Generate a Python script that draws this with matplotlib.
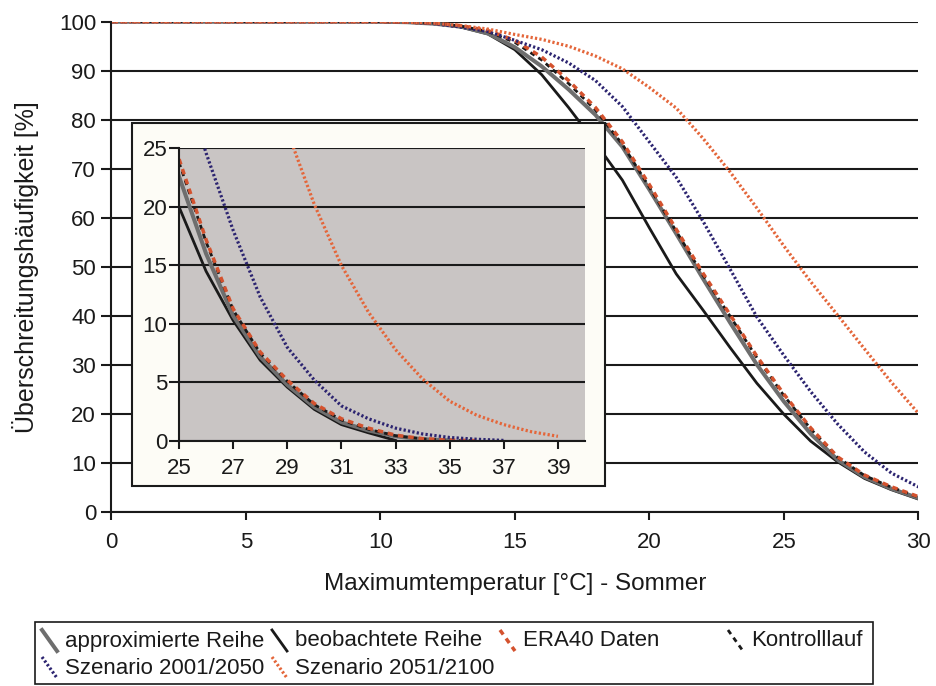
"""Exceedance frequency of summer maximum temperature, with a zoomed inset."""

import numpy as np
import matplotlib

matplotlib.use("Agg")
import matplotlib.pyplot as plt  # noqa: E402
from matplotlib.lines import Line2D  # noqa: E402
from matplotlib.patches import Rectangle  # noqa: E402

nan = np.nan

# temperature [°C]; the curves are flat at 100 % below 10 °C
TEMP = [0, 10, 11, 12, 13, 14, 15, 16, 17, 18, 19, 20, 21, 22, 23, 24,
        25, 26, 27, 28, 29, 30, 31, 32, 33, 34, 35, 36, 37, 38, 39]

APPROX = [100, 100, 99.9, 99.6, 99.0, 97.6, 94.8, 90.9, 86.2, 81.0, 74.5,
          65.8, 56.8, 47.6, 38.7, 30.1, 22.6, 16.0, 10.7, 7.2, 4.8, 2.9,
          1.6, 0.9, 0.4, 0.15, 0.05, nan, nan, nan, nan]
OBSERVED = [100, 100, 99.9, 99.6, 98.9, 97.5, 94.3, 89.2, 82.5, 75.3, 67.7,
            58.0, 48.6, 41.2, 33.6, 26.3, 20.0, 14.5, 10.3, 6.9, 4.6, 2.7,
            1.4, 0.7, 0.05, nan, nan, nan, nan, nan, nan]
ERA40 = [100, 100, 99.9, 99.7, 99.2, 98.2, 96.2, 92.8, 88.0, 82.5, 75.5,
         66.8, 57.7, 48.7, 40.3, 31.8, 24.1, 17.2, 11.3, 7.6, 5.2, 3.2,
         1.9, 1.1, 0.5, 0.2, 0.08, 0.03, nan, nan, nan]
CONTROL = [100, 100, 99.9, 99.7, 99.1, 98.0, 95.8, 92.2, 87.4, 82.0, 75.0,
           66.3, 57.3, 48.3, 40.0, 31.5, 23.8, 17.0, 11.2, 7.5, 5.1, 3.1,
           1.8, 1.0, 0.45, 0.18, 0.07, 0.02, nan, nan, nan]
SCEN_2001 = [100, 100, 99.9, 99.6, 98.9, 98.0, 96.2, 94.3, 91.6, 88.0, 82.7,
             75.5, 68.3, 59.3, 49.6, 39.8, 32.0, 24.6, 18.0, 12.3, 8.0, 5.2,
             3.0, 1.9, 1.1, 0.6, 0.3, 0.15, 0.05, nan, nan]
SCEN_2051 = [100, 100, 99.9, 99.7, 99.2, 98.5, 97.4, 96.4, 95.0, 93.0, 90.4,
             86.6, 82.4, 76.2, 69.4, 62.0, 54.3, 47.0, 40.2, 33.3, 26.5, 20.2,
             15.0, 11.0, 7.8, 5.3, 3.4, 2.2, 1.4, 0.8, 0.4]

LABELS = {"approx": "approximierte Reihe", "observed": "beobachtete Reihe",
          "era40": "ERA40 Daten", "control": "Kontrolllauf",
          "s2001": "Szenario 2001/2050", "s2051": "Szenario 2051/2100"}

plt.rcParams["font.family"] = ["Liberation Sans", "DejaVu Sans"]

INK = "#1a1a1a"
STYLES = {
    "observed": dict(color=INK, lw=2.0, ls="-"),
    "approx": dict(color="#6e6e6e", lw=2.9, ls="-"),
    "control": dict(color=INK, lw=2.0, ls=(0, (1.8, 1.6))),
    "era40": dict(color="#d4522e", lw=2.5, ls=(0, (1.6, 1.4))),
    "s2001": dict(color="#2c2470", lw=2.3, ls=(0, (0.7, 0.7))),
    "s2051": dict(color="#e4663a", lw=2.3, ls=(0, (0.7, 0.7))),
}
SERIES = [("observed", OBSERVED), ("approx", APPROX), ("control", CONTROL),
          ("era40", ERA40), ("s2001", SCEN_2001), ("s2051", SCEN_2051)]

W, H = 936, 686
fig = plt.figure(figsize=(W / 100, H / 100), dpi=100)


def fx(px):
    return px / W


def fy(py):
    return 1 - py / H


def style_axes(a, ylen, xlen, ypad, xpad, size):
    a.yaxis.grid(True, color=INK, lw=1.5)
    a.set_axisbelow(True)
    for side in ("top", "right"):
        a.spines[side].set_visible(False)
    for side in ("left", "bottom"):
        a.spines[side].set_linewidth(1.5)
        a.spines[side].set_color(INK)
    a.tick_params(width=1.5, labelsize=size, color=INK, labelcolor=INK)
    a.tick_params(axis="y", length=ylen, pad=ypad)
    a.tick_params(axis="x", length=xlen, pad=xpad)


ax = fig.add_axes([fx(111.3), fy(512.3), fx(918.3 - 111.3), (512.3 - 21.7) / H])
for key, vals in SERIES:
    ax.plot(TEMP, vals, **STYLES[key])
ax.set_xlim(0, 30)
ax.set_ylim(0, 100)
ax.set_xticks(range(0, 31, 5))
ax.set_yticks(range(0, 101, 10))
style_axes(ax, ylen=7, xlen=5.5, ypad=4, xpad=9, size=16)
ax.set_xlabel("Maximumtemperatur [°C] - Sommer", fontsize=17.5, labelpad=14,
              color=INK)
ax.set_ylabel("Überschreitungshäufigkeit [%]", fontsize=18, labelpad=14,
              color=INK)

# inset frame
fig.add_artist(Rectangle((fx(132), fy(486)), fx(605 - 132), (486 - 123) / H,
                         transform=fig.transFigure, facecolor="#fdfcf6",
                         edgecolor=INK, lw=1.5, zorder=1))

ins = fig.add_axes([fx(179), fy(441), fx(585 - 179), (441 - 148.3) / H], zorder=2)
ins.set_facecolor("#c9c5c4")
for key, vals in SERIES:
    ins.plot(TEMP, vals, **STYLES[key])
ins.set_xlim(25, 40)
ins.set_ylim(0, 25)
ins.set_xticks(range(25, 40, 2))
ins.set_yticks(range(0, 26, 5))
style_axes(ins, ylen=7, xlen=6, ypad=1.5, xpad=6, size=16)

# legend in the spreadsheet layout: equal column pitch, two rows
fig.add_artist(Rectangle((fx(35), fy(684)), fx(873 - 35), (684 - 622) / H,
                         transform=fig.transFigure, facecolor="white",
                         edgecolor=INK, lw=1.2, zorder=3))
legend_order = ["approx", "observed", "era40", "control", "s2001", "s2051"]
col_px = [42, 272, 500, 728]
row_px = [641, 668]
for i, key in enumerate(legend_order):
    x0, yc = col_px[i % 4], row_px[i // 4]
    st = STYLES[key]
    fig.add_artist(Line2D([fx(x0), fx(x0 + 15)], [fy(yc - 11), fy(yc + 10)],
                          transform=fig.transFigure, color=st["color"],
                          lw=st["lw"], ls=st["ls"], zorder=4))
    fig.text(fx(x0 + 23), fy(yc), LABELS[key], fontsize=16, color=INK,
             va="center", ha="left", zorder=4)

fig.savefig("out.png", dpi=100)
